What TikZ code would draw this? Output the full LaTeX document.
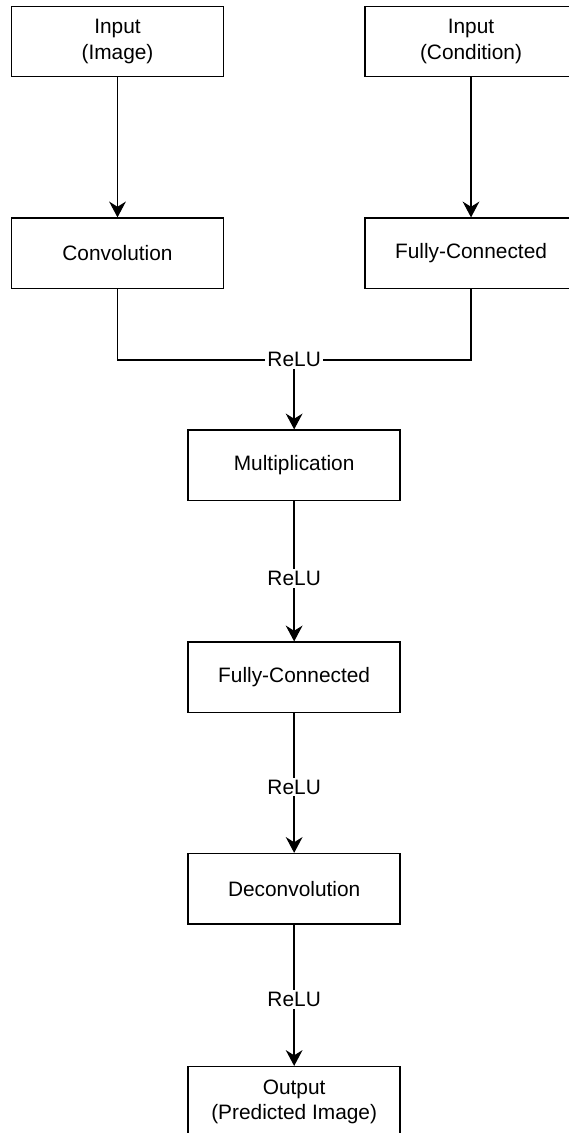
\documentclass[tikz,border=0pt]{standalone}
\usepackage{fontspec}
\setmainfont{Liberation Sans}
\usetikzlibrary{arrows.meta}

\tikzset {
    layer/.style={rectangle, draw=black, fill=white, line width=0.75pt, minimum width=4cm, minimum height=1.33cm, inner sep=0pt, align=center, font=\fontsize{11.2}{13.6}\selectfont},
    act/.style={rectangle, fill=white, inner sep=1pt, font=\fontsize{11.2}{13.6}\selectfont},
    flow/.style={->, >={Stealth[length=8.5pt, width=9pt, inset=2.8pt]}, line width=0.75pt},
}

\begin{document}
\begin{tikzpicture}
    \useasboundingbox (0, 0) rectangle (10.717, -21.377);
    \node (inimg) at (2.217, -0.783) [layer] {Input\\(Image)};
    \node (incond) at (8.887, -0.783) [layer] {Input\\(Condition)};
    \node (conv) at (2.217, -4.78) [layer] {Convolution};
    \node (fccond) at (8.887, -4.78) [layer] {Fully-Connected};
    \node (relu0) at (5.55, -6.79) [act] {ReLU};
    \node (mult) at (5.55, -8.78) [layer] {Multiplication};
    \node (fc) at (5.55, -12.78) [layer] {Fully-Connected};
    \node (deconv) at (5.55, -16.77) [layer] {Deconvolution};
    \node (out) at (5.55, -20.79) [layer] {Output\\(Predicted Image)};
    \draw [flow] (inimg) -- (conv);
    \draw [flow] (incond) -- (fccond);
    \draw [line width=0.75pt] (conv) |- (relu0);
    \draw [line width=0.75pt] (fccond) |- (relu0);
    \draw [flow] (relu0) -- (mult);
    \draw [flow] (mult) -- node [act, pos=0.55] {ReLU} (fc);
    \draw [flow] (fc) -- node [act, pos=0.53] {ReLU} (deconv);
    \draw [flow] (deconv) -- node [act, pos=0.53] {ReLU} (out);
\end{tikzpicture}
\end{document}
